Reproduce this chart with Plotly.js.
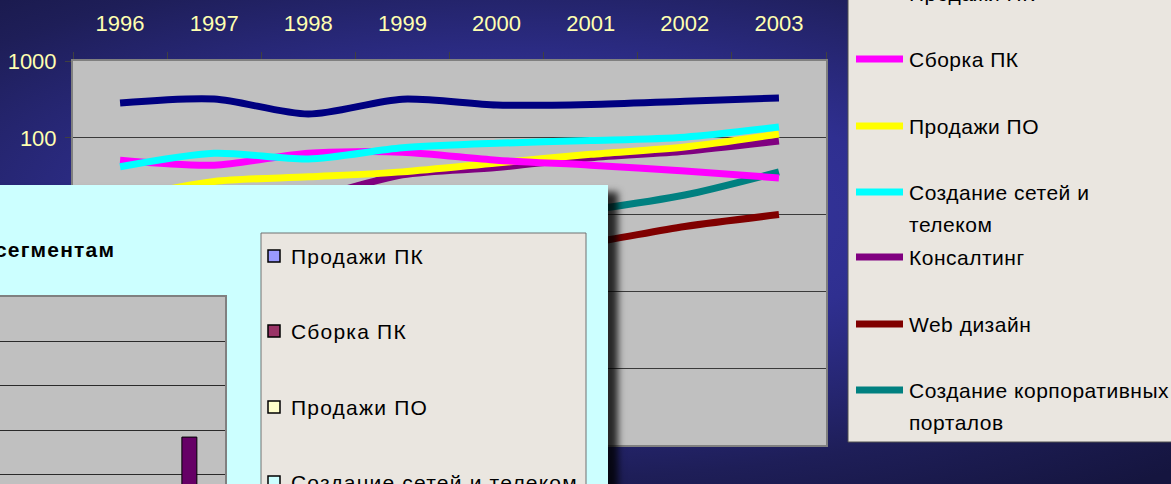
<!DOCTYPE html>
<html>
<head>
<meta charset="utf-8">
<script src="https://cdn.plot.ly/plotly-3.0.1.min.js"></script>
<style>
  html, body { margin: 0; padding: 0; }
  body {
    width: 1171px; height: 484px; overflow: hidden; position: relative;
    background: radial-gradient(ellipse 80% 72% at 45% 45%, #3a3aa8 0%, #2f2f90 40%, #1e1e58 75%, #15153f 100%);
  }
  #mainChart { position: absolute; left: 0; top: 0; width: 1171px; height: 484px; }
  #mainChart .annotation-text { letter-spacing: 0.5px; }
  #insetChart { position: absolute; left: -800px; top: 185px; width: 1408px; height: 420px;
    box-shadow: 10px 7px 7px rgba(0, 0, 0, 0.8); }
  #insetChart .annotation-text { letter-spacing: 1.2px; }
</style>
</head>
<body>
<div id="mainChart"></div>
<div id="insetChart"></div>
<script>
  var config = {
    displayModeBar: false,
    staticPlot: true
  };

  // Data (log scale chart)
  var years = ['1996', '1997', '1998', '1999', '2000', '2001', '2002', '2003'];
  var seriesNames = ['Продажи ПК', 'Сборка ПК', 'Продажи ПО', 'Создание сетей и телеком',
    'Консалтинг', 'Web дизайн', 'Создание корпоративных порталов'];
  var pcSales = [284, 320, 204, 318, 267, 272, 300, 330];
  var pcAssembly = [51, 44, 63, 65, 51, 44, 37, 30];
  var softwareSales = [16, 27, 31, 36, 47, 61, 76, 112];
  var networks = [42, 63, 53, 74, 85, 92, 102, 138];
  var consulting = [6, 10, 16, 33, 41, 55, 67, 91];
  var webDesign = [1, 1.2, 1.6, 2.2, 3, 4.3, 7, 10];
  var portals = [1, 2, 3, 5, 8, 11.5, 18, 36];
  var yTickVals = [0.01, 0.1, 1, 10, 100, 1000];
  var yTickLabels = ['0,01', '0,1', '1', '10', '100', '1000'];

  // Data (inset bar chart)
  var insetPcSales = [12, 14, 9, 15, 13, 13, 14, 16];
  var insetAssembly = [8, 7, 10, 10, 8, 7, 6, 5];
  var insetSoftware = [3, 4, 5, 6, 7, 9, 11, 17];
  var insetNetworks = [6, 9, 8, 11, 12, 14, 15, 21];
  var insetConsulting = [10, 18, 26, 40, 52, 64, 78, 142];
  var insetWeb = [2, 3, 4, 5, 7, 9, 12, 18];
  var insetPortals = [1, 2, 3, 4, 6, 9, 14, 26];

  var lineColors = ['#000080', '#FF00FF', '#FFFF00', '#00FFFF', '#800080', '#800000', '#008080'];
  var barColors = ['#9999FF', '#993366', '#FFFFCC', '#CCFFFF', '#660066', '#FF8080', '#0066CC'];
  var font = 'Liberation Sans, Arial, sans-serif';

  function wrapLabel(text, maxChars) {
    var words = text.split(' '), lines = [], cur = '';
    words.forEach(function(w) {
      if (cur && (cur + ' ' + w).length > maxChars) { lines.push(cur); cur = w; }
      else { cur = cur ? cur + ' ' + w : w; }
    });
    lines.push(cur);
    return lines;
  }

  // Main line chart
  var mainSeries = [pcSales, pcAssembly, softwareSales, networks, consulting, webDesign, portals];
  var mainData = mainSeries.map(function(vals, i) {
    return {
      x: years, y: vals, name: seriesNames[i],
      type: 'scatter', mode: 'lines',
      line: { color: lineColors[i], width: 7, shape: 'spline', smoothing: 0.8 },
      showlegend: false
    };
  });
  // drawing order as in the reference
  mainData = [mainData[6], mainData[5], mainData[4], mainData[2], mainData[1], mainData[3], mainData[0]];

  // pixel -> paper helpers for main plot (plot area 73..826 x 61..445)
  function px(x) { return (x - 73) / 753; }
  function py(y) { return (445 - y) / 384; }

  var legendRowsY = [-6, 59, 126, 192, 257, 324, 390];
  var mainShapes = [{
    type: 'rect', xref: 'paper', yref: 'paper',
    x0: px(848), x1: px(1200), y0: py(442), y1: py(-40),
    fillcolor: '#EAE6E0', line: { color: '#505050', width: 1 }
  }];
  var mainAnnotations = [];
  seriesNames.forEach(function(name, i) {
    var ry = legendRowsY[i];
    mainShapes.push({
      type: 'line', xref: 'paper', yref: 'paper',
      x0: px(856), x1: px(903), y0: py(ry), y1: py(ry),
      line: { color: lineColors[i], width: 7 }
    });
    wrapLabel(name, 22).forEach(function(line, j) {
      mainAnnotations.push({
        xref: 'paper', yref: 'paper', x: px(907), y: py(ry + 32 * j),
        xanchor: 'left', yanchor: 'middle', align: 'left', showarrow: false,
        text: line, font: { family: font, size: 21, color: '#000000' }
      });
    });
  });

  var mainLayout = {
    width: 1171, height: 484,
    margin: { l: 73, r: 345, t: 61, b: 39, autoexpand: false },
    paper_bgcolor: 'rgba(0,0,0,0)',
    plot_bgcolor: '#C0C0C0',
    showlegend: false,
    font: { family: font },
    xaxis: {
      type: 'category', side: 'top', range: [-0.5, 7.5],
      showgrid: false, ticks: 'outside', tickson: 'boundaries', ticklen: 7,
      tickcolor: '#404040', tickwidth: 1, ticklabelstandoff: 19,
      tickfont: { size: 22, color: '#FFFFB0', family: font },
      showline: true, mirror: true, linecolor: '#808080', linewidth: 2,
      fixedrange: true
    },
    yaxis: {
      type: 'log', range: [-2, 3],
      tickvals: yTickVals, ticktext: yTickLabels,
      ticks: 'outside', ticklen: 6, tickcolor: '#404040', ticklabelstandoff: 4,
      tickfont: { size: 22, color: '#FFFFB0', family: font },
      showgrid: true, gridcolor: '#3a3a3a', gridwidth: 1,
      showline: true, mirror: true, linecolor: '#808080', linewidth: 2,
      zeroline: false, fixedrange: true
    },
    shapes: mainShapes,
    annotations: mainAnnotations
  };
  Plotly.newPlot('mainChart', mainData, mainLayout, config);

  // Inset bar chart (div spans page x -800..608, y 185..605)
  var insetSeries = [insetPcSales, insetAssembly, insetSoftware, insetNetworks, insetConsulting, insetWeb, insetPortals];
  var insetData = insetSeries.map(function(vals, i) {
    return {
      x: years, y: vals, name: seriesNames[i], type: 'bar',
      marker: { color: barColors[i], line: { color: '#000000', width: 1 } },
      showlegend: false
    };
  });

  function ipx(x) { return (x + 800 - 60) / 965; }
  function ipy(y) { return (378 - (y - 185)) / 266; }

  var insetRowsY = [256, 331, 407, 482, 557, 632, 707];
  var insetShapes = [{
    type: 'rect', xref: 'paper', yref: 'paper',
    x0: ipx(261), x1: ipx(586), y0: ipy(700), y1: ipy(233),
    fillcolor: '#EAE6E0', line: { color: '#707070', width: 1 }
  }];
  var insetAnnotations = [{
    xref: 'paper', yref: 'paper', x: ipx(117), y: ipy(250),
    xanchor: 'right', yanchor: 'middle', align: 'right', showarrow: false,
    text: '<b>Доходы по сегментам</b>', font: { family: font, size: 21, color: '#000000' }
  }];
  seriesNames.forEach(function(name, i) {
    var ry = insetRowsY[i];
    insetShapes.push({
      type: 'rect', xref: 'paper', yref: 'paper',
      x0: ipx(268), x1: ipx(280), y0: ipy(ry + 6), y1: ipy(ry - 6),
      fillcolor: barColors[i], line: { color: '#000000', width: 1.5 }
    });
    insetAnnotations.push({
      xref: 'paper', yref: 'paper', x: ipx(289), y: ipy(ry),
      xanchor: 'left', yanchor: 'middle', align: 'left', showarrow: false,
      text: name, font: { family: font, size: 21, color: '#000000' }
    });
  });

  var insetLayout = {
    width: 1408, height: 420,
    margin: { l: 60, r: 383, t: 112, b: 42, autoexpand: false },
    paper_bgcolor: '#CCFFFF',
    plot_bgcolor: '#C0C0C0',
    showlegend: false,
    barmode: 'group', bargap: 0.14, bargroupgap: 0,
    font: { family: font },
    xaxis: {
      type: 'category', range: [-0.5, 7.415], showticklabels: false,
      showgrid: false, showline: true, mirror: true, linecolor: '#808080', linewidth: 2,
      fixedrange: true
    },
    yaxis: {
      range: [0, 300], dtick: 50, showticklabels: false,
      showgrid: true, gridcolor: '#2a2a2a', gridwidth: 1, zeroline: false,
      showline: true, mirror: true, linecolor: '#808080', linewidth: 2,
      fixedrange: true
    },
    shapes: insetShapes,
    annotations: insetAnnotations
  };
  Plotly.newPlot('insetChart', insetData, insetLayout, config);
</script>
</body>
</html>
